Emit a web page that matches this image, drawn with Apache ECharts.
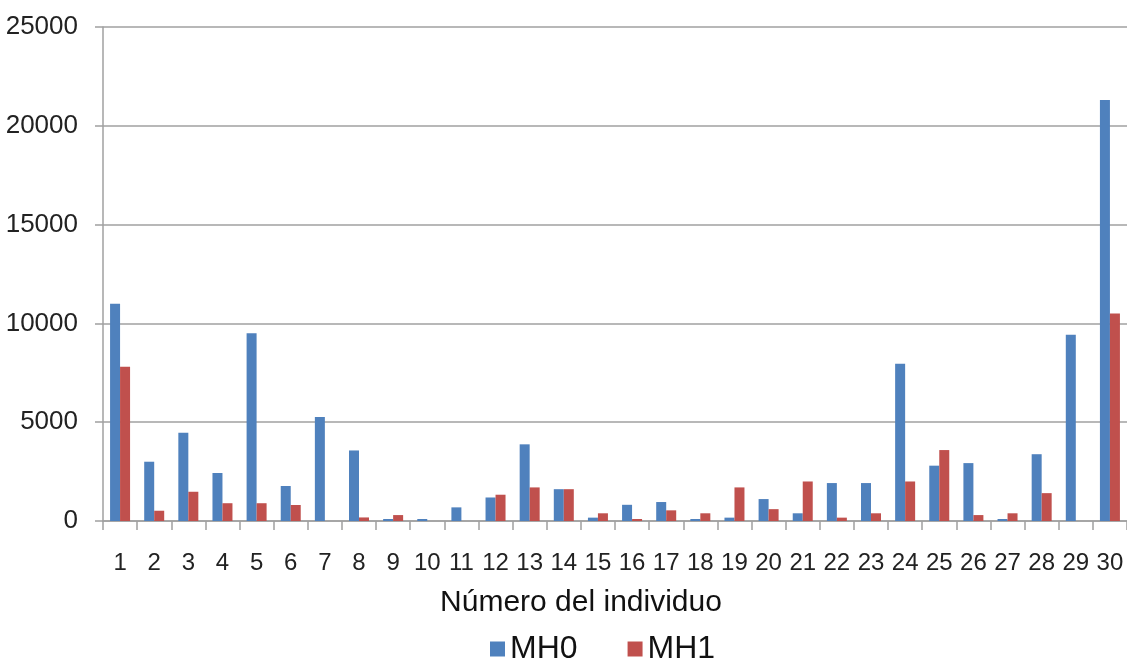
<!DOCTYPE html>
<html>
<head>
<meta charset="utf-8">
<script src="https://cdn.jsdelivr.net/npm/echarts@6/dist/echarts.min.js"></script>
<style>
  html, body { margin: 0; padding: 0; background: #fff; }
  #chart { width: 1127px; height: 659px; }
</style>
</head>
<body>
<div id="chart"></div>
<script>
// individuals 1..30
const individuos = [
  '1', '2', '3', '4', '5', '6', '7', '8', '9', '10',
  '11', '12', '13', '14', '15', '16', '17', '18', '19', '20',
  '21', '22', '23', '24', '25', '26', '27', '28', '29', '30'
];

const mh0 = [
  11000, 3000, 4470, 2430, 9500, 1770, 5260, 3570, 100, 100,
  690, 1190, 3880, 1610, 170, 820, 960, 100, 170, 1110,
  390, 1920, 1920, 7960, 2800, 2930, 100, 3380, 9430, 21300
];

const mh1 = [
  7800, 520, 1480, 900, 900, 810, 0, 180, 300, 0,
  0, 1330, 1700, 1610, 390, 100, 540, 390, 1700, 600,
  2000, 170, 390, 2000, 3590, 300, 390, 1410, 0, 10500
];

const yTicks = [0, 25000, 5000]; // min, max, interval

const chart = echarts.init(document.getElementById('chart'));

const arial = 'Liberation Sans, Arial, sans-serif';

chart.setOption({
  animation: false,
  grid: {
    left: 103,
    right: 0,
    top: 27,
    bottom: 138,
    outerBoundsMode: 'none',
  },
  legend: {
    data: ['MH0', 'MH1'],
    top: 628,
    left: 485,
    icon: 'rect',
    itemWidth: 15,
    itemHeight: 15,
    itemGap: 50,
    textStyle: {
      color: '#111',
      fontSize: 32,
      fontFamily: arial,
    },
  },
  xAxis: {
    type: 'category',
    data: individuos,
    name: 'Número del individuo',
    nameLocation: 'middle',
    nameGap: 67,
    nameTextStyle: {
      color: '#111',
      fontSize: 30,
      fontFamily: arial,
      padding: [0, 68, 0, 0],
    },
    axisLine: { lineStyle: { color: '#a0a0a0', width: 1.5 } },
    axisTick: { show: true, length: 9, lineStyle: { color: '#a0a0a0', width: 1.5 } },
    axisLabel: { color: '#222', fontSize: 24, fontFamily: arial, margin: 30, interval: 0 },
  },
  yAxis: {
    type: 'value',
    min: yTicks[0],
    max: yTicks[1],
    interval: yTicks[2],
    axisLine: { show: true, lineStyle: { color: '#a0a0a0', width: 1.5 } },
    axisTick: { show: true, length: 8, lineStyle: { color: '#a0a0a0', width: 1.5 } },
    axisLabel: {
      color: '#222',
      fontSize: 26,
      fontFamily: arial,
      margin: 25,
      formatter: (v) => String(v),
    },
    splitLine: { lineStyle: { color: '#a0a0a0', width: 1.5 } },
  },
  series: [
    {
      name: 'MH0',
      type: 'bar',
      data: mh0,
      barWidth: 10,
      barGap: '0%',
      itemStyle: { color: '#4f81bd' },
    },
    {
      name: 'MH1',
      type: 'bar',
      data: mh1,
      barWidth: 10,
      barGap: '0%',
      itemStyle: { color: '#c0504d' },
    },
  ],
});
</script>
</body>
</html>
